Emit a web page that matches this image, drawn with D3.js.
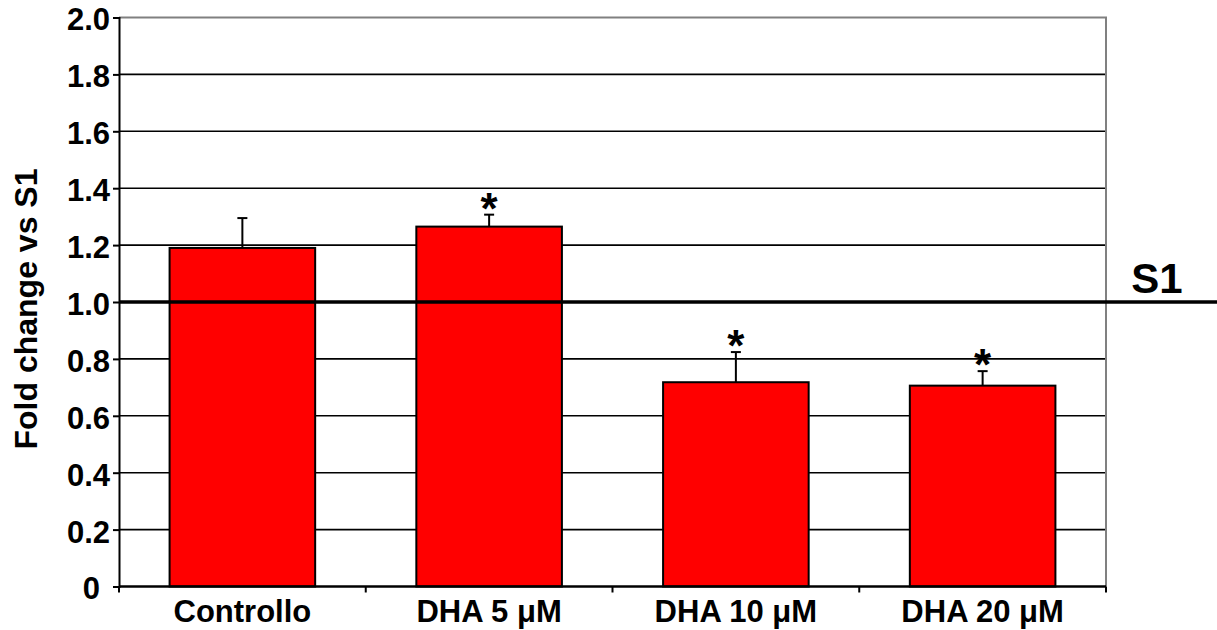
<!DOCTYPE html>
<html>
<head>
<meta charset="utf-8">
<script src="https://cdn.jsdelivr.net/npm/d3@7"></script>
<style>
  html, body { margin: 0; padding: 0; background: #fff; }
  svg { display: block; font-family: "Liberation Sans", Arial, sans-serif; font-weight: bold; }
</style>
</head>
<body>
<svg id="chart" width="1217" height="630"></svg>
<script>
// ---- data ----
const categories = ["Controllo", "DHA 5 μM", "DHA 10 μM", "DHA 20 μM"];
const values = [1.19, 1.265, 0.718, 0.706];
const errors = [0.105, 0.042, 0.106, 0.051];
const significant = [false, true, true, true];
const yTicks = [0, 0.2, 0.4, 0.6, 0.8, 1.0, 1.2, 1.4, 1.6, 1.8, 2.0];
const yTickLabels = ["0", "0.2", "0.4", "0.6", "0.8", "1.0", "1.2", "1.4", "1.6", "1.8", "2.0"];
const refValue = 1.0;
const refLabel = "S1";
const yTitle = "Fold change vs S1";

// ---- layout ----
const W = 1217, H = 630;
const L = 119, R = 1106, T = 17.5, B = 586.5;

const svg = d3.select("#chart");

const x = d3.scaleBand().domain(categories).range([L, R]).paddingInner(0.41).paddingOuter(0.205);
const xb = d3.scaleBand().domain(categories).range([L, R]);
const y = d3.scaleLinear().domain([0, 2]).range([B, T]);

// gridlines
svg.append("g").selectAll("line")
  .data(yTicks.filter(d => d > 0 && d < 2))
  .join("line")
  .attr("x1", L).attr("x2", R)
  .attr("y1", d => y(d)).attr("y2", d => y(d))
  .attr("stroke", "#000").attr("stroke-width", 1.6);

// frame top + right (gray)
svg.append("path")
  .attr("d", `M${L},${y(2)}H${R}V${B}`)
  .attr("fill", "none").attr("stroke", "#808080").attr("stroke-width", 2);

// bars
svg.append("g").selectAll("rect")
  .data(categories)
  .join("rect")
  .attr("x", d => x(d))
  .attr("width", x.bandwidth())
  .attr("y", (d, i) => y(values[i]))
  .attr("height", (d, i) => B - y(values[i]))
  .attr("fill", "#ff0000")
  .attr("stroke", "#000").attr("stroke-width", 2);

// error bars
const eb = svg.append("g").attr("stroke", "#000").attr("stroke-width", 2).attr("fill", "none");
categories.forEach((c, i) => {
  const cx = x(c) + x.bandwidth() / 2;
  const top = y(values[i] + errors[i]);
  eb.append("line").attr("x1", cx).attr("x2", cx).attr("y1", y(values[i])).attr("y2", top);
  eb.append("line").attr("x1", cx - 5).attr("x2", cx + 5).attr("y1", top).attr("y2", top);
});

// significance stars
svg.append("g").selectAll("text")
  .data(categories.filter((c, i) => significant[i]))
  .join("text")
  .attr("x", d => x(d) + x.bandwidth() / 2)
  .attr("y", d => { const i = categories.indexOf(d); return y(values[i] + errors[i]) + 9; })
  .attr("text-anchor", "middle")
  .attr("font-size", 44)
  .text("*");

// reference line S1
svg.append("line")
  .attr("x1", L).attr("x2", W)
  .attr("y1", y(refValue)).attr("y2", y(refValue))
  .attr("stroke", "#000").attr("stroke-width", 3.5);
svg.append("text")
  .attr("x", 1157).attr("y", y(refValue) - 9)
  .attr("text-anchor", "middle")
  .attr("font-size", 42)
  .text(refLabel);

// y axis
const yAxis = d3.axisLeft(y).tickValues(yTicks).tickSize(6).tickPadding(3)
  .tickFormat((d, i) => yTickLabels[i]);
const gy = svg.append("g").attr("transform", `translate(${L},0)`).call(yAxis);
gy.select(".domain").attr("stroke", "#000").attr("stroke-width", 2);
gy.selectAll(".tick line").attr("stroke", "#000").attr("stroke-width", 2);
gy.selectAll(".tick text")
  .attr("font-size", 31).attr("font-family", null).attr("fill", "#000")
  .attr("dy", "0.4em")
  .attr("dx", d => d === 0 ? -10 : 0);

// x axis
svg.append("line").attr("x1", L).attr("x2", R).attr("y1", B).attr("y2", B)
  .attr("stroke", "#000").attr("stroke-width", 2.5);
svg.append("g").selectAll("line")
  .data(categories.concat([null]))
  .join("line")
  .attr("x1", (d, i) => d === null ? R : xb(d))
  .attr("x2", (d, i) => d === null ? R : xb(d))
  .attr("y1", B).attr("y2", B + 6)
  .attr("stroke", "#000").attr("stroke-width", 2);
svg.append("g").selectAll("text")
  .data(categories)
  .join("text")
  .attr("x", d => xb(d) + xb.bandwidth() / 2)
  .attr("y", 622)
  .attr("text-anchor", "middle")
  .attr("font-size", 31)
  .text(d => d);

// y title
svg.append("text")
  .attr("transform", `translate(37,${(165 + 453) / 2}) rotate(-90)`)
  .attr("text-anchor", "middle")
  .attr("font-size", 32)
  .text(yTitle);
</script>
</body>
</html>
